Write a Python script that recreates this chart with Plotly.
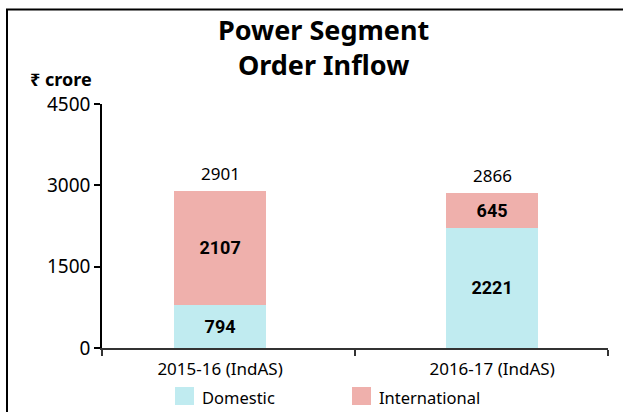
import plotly.graph_objects as go

# Order inflow, power segment (₹ crore)
categories = ["2015-16 (IndAS)", "2016-17 (IndAS)"]
series_names = ["Domestic", "International"]
domestic = [794, 2221]
international = [2107, 645]
totals = [2901, 2866]
y_ticks = [0, 1500, 3000, 4500]

colors = {"Domestic": "#C0EBF0", "International": "#EFB0AC"}

W, H = 623, 412
L, R, T, B = 102, 15, 104, 64
PW, PH = W - L - R, H - T - B


def px_x(px):
    return (px - L) / PW


def px_y(py):
    return (H - B - py) / PH


x_pos = [0, 1]
x_range = [-0.434, 1.426]

fig = go.Figure()
for name, vals in zip(series_names, [domestic, international]):
    fig.add_trace(go.Bar(
        x=x_pos, y=vals, name=name, width=0.338,
        marker=dict(color=colors[name], line=dict(width=0)),
        text=[str(v) for v in vals], textposition="inside",
        insidetextanchor="middle", textangle=0,
        textfont=dict(family="Roboto", size=18, color="black", weight="bold"),
        showlegend=False,
    ))

# totals above each stack
for xi, t in zip(x_pos, totals):
    fig.add_annotation(x=xi, y=t, text=str(t), showarrow=False,
                       yanchor="bottom", yshift=4,
                       font=dict(family="Noto Sans", size=17, color="black"))

# chart title
fig.add_annotation(xref="paper", yref="paper", x=px_x(323.5), y=px_y(46.5),
                   xanchor="center", yanchor="middle", showarrow=False,
                   text="<b>Power Segment<br>Order Inflow</b>",
                   font=dict(family="Noto Sans", size=27, color="black"))

# unit label
fig.add_annotation(xref="paper", yref="paper", x=px_x(28), y=px_y(79),
                   xanchor="left", yanchor="middle", showarrow=False,
                   text="<b>₹ crore</b>",
                   font=dict(family="Noto Sans", size=18, color="black"))

# legend row
shapes = []
legend_x = [175, 352]
for name, lx in zip(series_names, legend_x):
    shapes.append(dict(type="rect", xref="paper", yref="paper",
                       x0=px_x(lx), x1=px_x(lx + 19), y0=px_y(405), y1=px_y(387),
                       fillcolor=colors[name], line=dict(width=0)))
    fig.add_annotation(xref="paper", yref="paper", x=px_x(lx + 25), y=px_y(397),
                       xanchor="left", yanchor="middle", showarrow=False,
                       text=name, font=dict(family="Noto Sans", size=16.5, color="black"))

# outer frame: top rule and left rule
shapes.append(dict(type="line", xref="paper", yref="paper",
                   x0=px_x(6), x1=px_x(623), y0=px_y(9.5), y1=px_y(9.5),
                   line=dict(color="black", width=2)))
shapes.append(dict(type="line", xref="paper", yref="paper",
                   x0=px_x(7), x1=px_x(7), y0=px_y(9.5), y1=px_y(412),
                   line=dict(color="black", width=2)))

fig.update_layout(
    width=W, height=H,
    margin=dict(l=L, r=R, t=T, b=B),
    barmode="stack",
    plot_bgcolor="white", paper_bgcolor="white",
    shapes=shapes,
    xaxis=dict(
        range=x_range, tickmode="array", tickvals=x_pos, ticktext=categories,
        ticks="outside", ticklen=5, tickcolor="rgba(0,0,0,0)",
        minor=dict(tickmode="array", tickvals=[x_range[0], 0.496, x_range[1]],
                   ticks="outside", ticklen=6, tickwidth=1.5, tickcolor="#333"),
        showline=True, linecolor="#333", linewidth=1.5,
        showgrid=False, zeroline=False, fixedrange=True,
        tickfont=dict(family="Noto Sans", size=17, color="black"),
    ),
    yaxis=dict(
        range=[0, 4500], tickmode="array", tickvals=y_ticks,
        ticks="outside", ticklen=6, tickwidth=1.5, tickcolor="black",
        showline=True, linecolor="black", linewidth=1.5,
        showgrid=False, zeroline=False,
        tickfont=dict(family="Noto Sans", size=19, color="black"),
    ),
)

fig.write_html("out.html")
